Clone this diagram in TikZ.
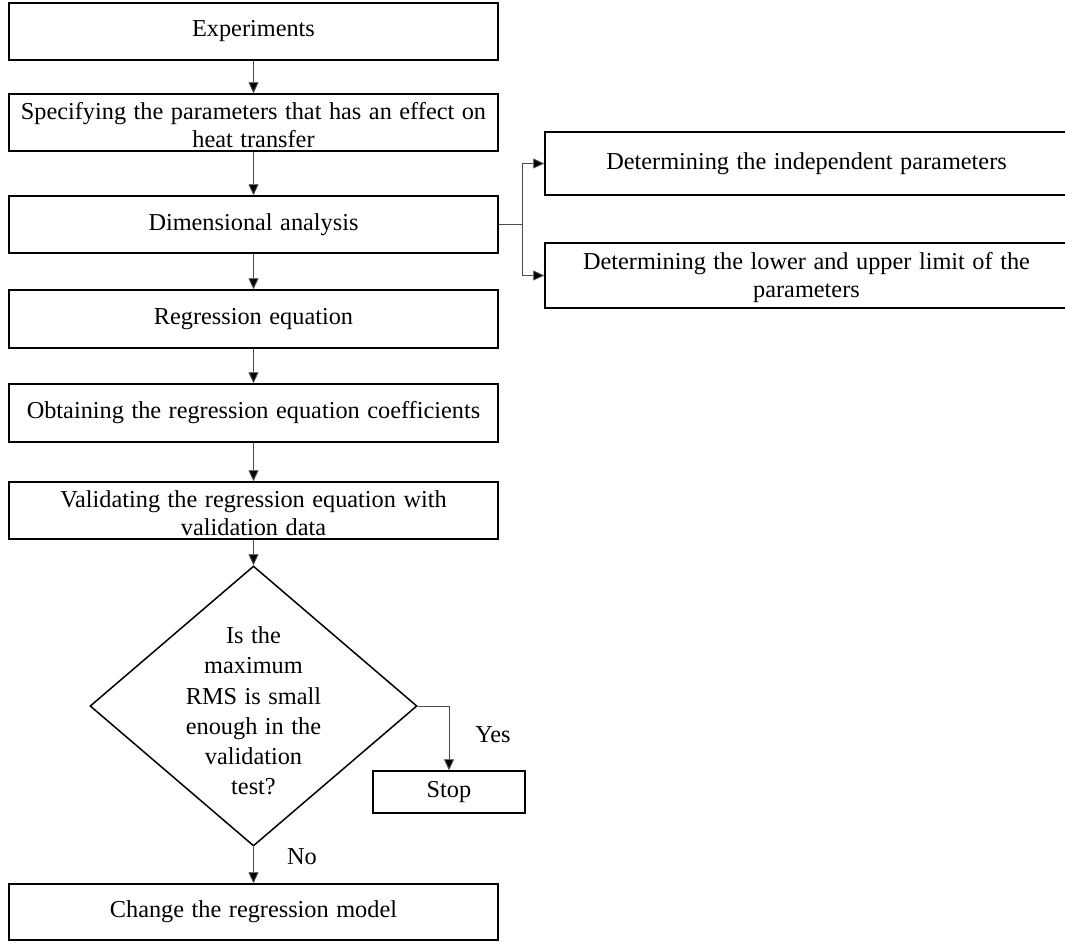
\documentclass[tikz,border=0pt]{standalone}
\usepackage{fontspec}
\setmainfont{Liberation Serif}
\usetikzlibrary{shapes.geometric,arrows.meta}
\newcommand\boxfont{\fontsize{24.3}{28}\selectfont\spaceskip 0.31em plus 0.1em minus 0.05em\relax}
\newcommand\decfont{\fontsize{24.3}{30.2}\selectfont\spaceskip 0.31em plus 0.1em minus 0.05em\relax}
\begin{document}
\begin{tikzpicture}[x=1pt,y=-1pt,
  txt/.style={font=\boxfont},
  box/.style={txt,draw=black,line width=1.5pt,inner sep=2pt,align=center,minimum width=489pt},
  rbox/.style={txt,draw=black,line width=1.5pt,inner sep=2pt,align=center,minimum width=523pt},
  conn/.style={draw=black!70,line width=0.9pt},
  arr/.style={conn,-{Triangle[length=11pt,width=10pt,fill=black]}},
  lbl/.style={txt,inner sep=0pt}
]
\useasboundingbox (0,0) rectangle (1065,942);

\node[box,minimum height=57pt] (exp)  at (253.5,31.5) {Experiments};
\node[box,minimum height=57pt] (spec) at (253.5,122.5) {\rule{0pt}{22pt}Specifying the parameters that has an effect on\\heat transfer};
\node[box,minimum height=57pt] (dim)  at (253.5,224.5) {Dimensional analysis};
\node[box,minimum height=58pt] (reg)  at (253.5,319) {Regression equation};
\node[box,minimum height=58pt] (obt)  at (253.5,413) {Obtaining the regression equation coefficients};
\node[box,minimum height=57pt] (val)  at (253.5,510.5) {\rule{0pt}{22pt}Validating the regression equation with\\validation data};
\node[draw=black,line width=1.5pt,diamond,minimum width=327pt,minimum height=280pt,inner sep=0pt] (dec) at (253.5,706) {};
\node[inner sep=0pt,align=center,font=\decfont] (dectext) at (253.5,711) {Is the\\maximum\\RMS is small\\enough in the\\validation\\test?};
\node[box,minimum height=56pt] (chg)  at (253.5,912) {Change the regression model};
\node[txt,draw=black,line width=1.5pt,inner sep=2pt,minimum width=152pt,minimum height=42pt] (stop) at (449,792) {Stop};

\node[rbox,minimum height=63pt] (det1) at (806.5,163.5) {Determining the independent parameters};
\node[rbox,minimum height=65pt] (det2) at (806.5,275.5) {\rule{0pt}{22pt}Determining the lower and upper limit of the\\parameters};

\node[lbl] (yes) at (493,735) {Yes};
\node[lbl] (no)  at (302,857) {No};

\coordinate (br) at (522,224.5);

\draw[arr] (exp) -- (spec);
\draw[arr] (spec) -- (dim);
\draw[arr] (dim) -- (reg);
\draw[arr] (reg) -- (obt);
\draw[arr] (obt) -- (val);
\draw[arr] (val.south) -- (dec.north);
\draw[arr] (dec.south) -- (chg.north);
\draw[arr] (dec.east) -| (stop.north);
\draw[conn] (dim.east) -- (br);
\draw[arr] (br) |- (det1.west);
\draw[arr] (br) |- (det2.west);
\end{tikzpicture}
\end{document}
